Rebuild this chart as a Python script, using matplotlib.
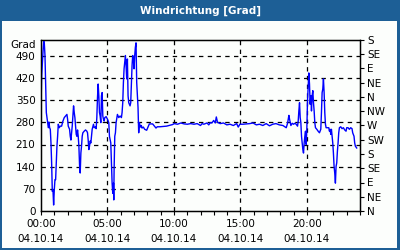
import numpy as np
import matplotlib
matplotlib.use("Agg")
import matplotlib.pyplot as plt
from matplotlib.patches import Rectangle

plt.rcParams["font.family"] = ["DejaVu Sans"]
plt.rcParams["font.size"] = 7.5

# wind direction over the day, hours since midnight / degrees
hours = [
    0.0, 0.05, 0.15, 0.225, 0.3, 0.35, 0.4, 0.5, 0.55, 0.6, 0.65, 0.7, 0.75, 0.8, 0.85,
    0.9, 0.95, 1.0, 1.05, 1.1, 1.15, 1.2, 1.25, 1.3, 1.375, 1.45, 1.55, 1.65, 1.75, 1.85,
    1.95, 2.0, 2.05, 2.15, 2.2, 2.25, 2.3, 2.35, 2.4, 2.45, 2.5, 2.55, 2.6, 2.65, 2.7,
    2.75, 2.8, 2.85, 2.9, 2.95, 3.0, 3.05, 3.1, 3.15, 3.25, 3.35, 3.45, 3.5, 3.55, 3.6,
    3.65, 3.7, 3.75, 3.8, 3.85, 3.95, 4.0, 4.1, 4.15, 4.2, 4.25, 4.3, 4.35, 4.4, 4.45,
    4.5, 4.55, 4.6, 4.65, 4.7, 4.75, 4.8, 4.9, 5.0, 5.1, 5.15, 5.25, 5.3, 5.35, 5.4,
    5.45, 5.475, 5.5, 5.55, 5.6, 5.65, 5.75, 5.85, 5.95, 6.05, 6.1, 6.15, 6.2, 6.25, 6.35,
    6.4, 6.45, 6.5, 6.55, 6.6, 6.7, 6.75, 6.8, 6.85, 6.9, 6.95, 7.0, 7.05, 7.1, 7.15,
    7.2, 7.3, 7.35, 7.4, 7.45, 7.5, 7.55, 7.6, 7.7, 7.8, 7.95, 8.05, 8.15, 8.4, 8.5,
    8.65, 8.75, 8.95, 9.45, 9.9, 10.02, 10.27, 10.52, 10.77, 11.01, 11.26, 11.51, 11.75, 12.0, 12.12,
    12.25, 12.49, 12.62, 12.74, 12.86, 12.99, 13.11, 13.19, 13.28, 13.48, 13.73, 13.98, 14.22, 14.47, 14.72,
    14.84, 14.96, 15.21, 15.46, 15.7, 15.95, 16.2, 16.44, 16.69, 16.94, 17.19, 17.43, 17.68, 17.93, 18.2,
    18.45, 18.55, 18.65, 18.7, 18.8, 18.9, 19.0, 19.1, 19.2, 19.3, 19.35, 19.4, 19.45, 19.5, 19.55,
    19.6, 19.65, 19.7, 19.75, 19.8, 19.85, 19.9, 19.95, 20.0, 20.05, 20.1, 20.15, 20.2, 20.25, 20.3,
    20.35, 20.4, 20.45, 20.5, 20.55, 20.6, 20.65, 20.75, 20.85, 20.95, 21.05, 21.1, 21.15, 21.2, 21.25,
    21.3, 21.35, 21.4, 21.45, 21.55, 21.65, 21.7, 21.75, 21.8, 21.85, 21.9, 21.95, 22.0, 22.05, 22.1,
    22.15, 22.2, 22.25, 22.3, 22.35, 22.4, 22.45, 22.55, 22.65, 22.75, 22.85, 22.95, 23.0, 23.1, 23.2,
    23.3, 23.4, 23.45, 23.55, 23.6, 23.65, 23.75,
]
direction = [
    327, 427, 502, 548, 491, 396, 311, 279, 263, 281, 263, 258, 215, 152, 62,
    67, 19, 67, 99, 99, 152, 205, 236, 274, 263, 268, 268, 284, 295, 300,
    305, 290, 268, 258, 236, 224, 247, 268, 300, 332, 311, 295, 268, 242, 236,
    256, 236, 205, 146, 120, 183, 205, 236, 247, 252, 256, 252, 247, 224, 194,
    205, 221, 215, 236, 258, 274, 263, 266, 260, 295, 358, 401, 364, 311, 300,
    279, 364, 374, 300, 290, 284, 295, 298, 290, 279, 236, 215, 152, 88, 56,
    88, 35, 130, 236, 247, 279, 305, 295, 300, 295, 311, 342, 406, 449, 491,
    459, 417, 480, 364, 342, 332, 342, 396, 459, 491, 480, 449, 491, 517, 531,
    406, 327, 247, 279, 270, 265, 270, 262, 265, 258, 255, 265, 275, 275, 270,
    262, 266, 266, 268, 273, 276, 274, 278, 275, 274, 276, 274, 276, 270, 276,
    274, 278, 272, 279, 278, 286, 278, 297, 280, 276, 278, 272, 274, 270, 276,
    265, 274, 274, 275, 276, 278, 272, 274, 270, 276, 269, 274, 276, 272, 270,
    263, 277, 302, 290, 270, 277, 274, 277, 274, 268, 284, 316, 342, 295, 279,
    236, 215, 194, 183, 215, 236, 252, 210, 258, 348, 396, 436, 401, 337, 364,
    316, 364, 380, 342, 316, 279, 263, 258, 252, 247, 258, 311, 374, 385, 417,
    374, 311, 274, 263, 263, 263, 252, 258, 242, 258, 236, 215, 183, 141, 120,
    88, 141, 152, 189, 215, 247, 263, 266, 260, 263, 256, 252, 263, 263, 258,
    263, 260, 247, 236, 215, 205, 199,
]

y_ticks = [0, 70, 140, 210, 280, 350, 420, 490]
compass = ["N", "NE", "E", "SE", "S", "SW", "W", "NW", "N", "NE", "E", "SE", "S"]
x_ticks = [0, 5, 10, 15, 20]
x_labels = ["00:00\n04.10.14", "05:00\n04.10.14", "10:00\n04.10.14",
            "15:00\n04.10.14", "20:00\n04.10.14"]

frame_blue = "#1d5f96"

fig = plt.figure(figsize=(4, 2.5), dpi=100, facecolor=frame_blue)
fig.patches.append(Rectangle((2 / 400, 2 / 250), 395 / 400, 227 / 250,
                             transform=fig.transFigure, facecolor="#fcfefc",
                             edgecolor="none", zorder=-5))
fig.text(0.5, 1 - 10.5 / 250, "Windrichtung [Grad]", color="white",
         fontsize=7.5, fontweight="bold", ha="center", va="center")

ax = fig.add_axes([41 / 400, 1 - 211 / 250, 319 / 400, 171 / 250])
ax.set_zorder(2)
ax.set_facecolor("#fcfefc")
ax.plot(hours, direction, color="#0000ff", lw=1.0, zorder=3)

ax.set_xlim(0, 24)
ax.set_ylim(0, 540)
ax.set_yticks(y_ticks)
ax.set_xticks(x_ticks)
ax.set_xticklabels(x_labels, linespacing=1.6)
ax.set_xticks(np.arange(0, 25, 1), minor=True)
ax.tick_params(axis="y", length=0, pad=4)
ax.tick_params(axis="x", which="both", direction="out", length=3, width=0.8, pad=3)

for v in y_ticks[1:]:
    ax.axhline(v, color="black", lw=0.9, ls=(0, (3.5, 3.5)), zorder=1)
for h in x_ticks[1:]:
    ax.axvline(h, color="black", lw=0.9, ls=(0, (3.5, 3.5)), zorder=1)

for s in ax.spines.values():
    s.set_linewidth(1.0)

ax2 = ax.twinx()
ax2.set_zorder(3)
ax2.patch.set_visible(False)
ax2.set_ylim(0, 540)
ax2.set_yticks(np.arange(0, 541, 45))
ax2.set_yticklabels(compass)
ax2.tick_params(axis="y", direction="out", length=3, width=0.8, pad=2)

fig.text(36 / 400, 1 - 45 / 250, "Grad", ha="right", va="center")

fig.savefig("out.png", dpi=100, facecolor=frame_blue)
